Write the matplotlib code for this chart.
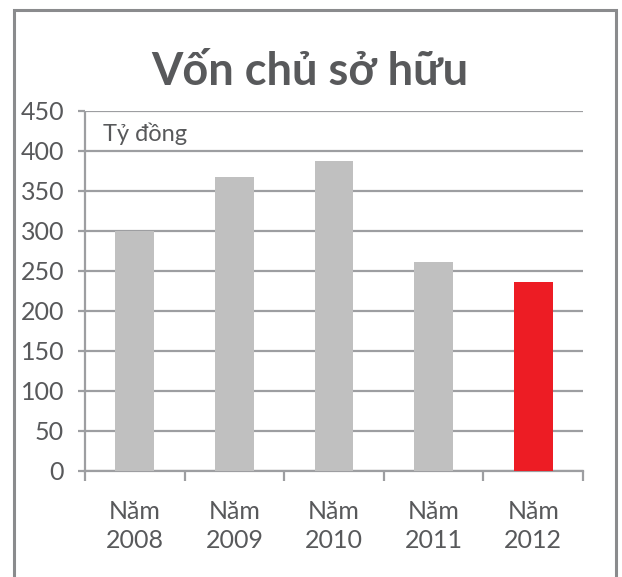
import matplotlib
matplotlib.use("Agg")
import matplotlib.pyplot as plt
from matplotlib.patches import Rectangle

categories = ["Năm\n2008", "Năm\n2009", "Năm\n2010", "Năm\n2011", "Năm\n2012"]
values = [300, 367, 387, 261, 236]
colors = ["#c0c0c0", "#c0c0c0", "#c0c0c0", "#c0c0c0", "#ed1c24"]
yticks = [0, 50, 100, 150, 200, 250, 300, 350, 400, 450]
title = "Vốn chủ sở hữu"
unit = "Tỷ đồng"

TXT = "#58595b"
GRID = "#9d9ea1"
W, H = 622, 577
fig = plt.figure(figsize=(W / 100, H / 100), dpi=100)
plt.rcParams['font.family'] = ['Lato', 'DejaVu Sans']

ax = fig.add_axes([85 / W, 1 - 471 / H, (583 - 85) / W, (471 - 111) / H])
x = list(range(len(categories)))
ax.bar(x, values, width=0.39, color=colors, zorder=3)
ax.set_xlim(-0.5, len(categories) - 0.5)
ax.set_ylim(0, 450)
ax.set_yticks(yticks)
ax.set_yticklabels([str(v) for v in yticks], fontsize=18, color=TXT)
ax.yaxis.grid(True, color=GRID, linewidth=1.6, zorder=1)
ax.tick_params(axis='y', length=5, width=1.6, color=GRID, pad=10)
ax.set_xticks([i - 0.5 for i in range(len(categories) + 1)])
ax.set_xticklabels([])
ax.set_xticks(x, minor=True)
ax.set_xticklabels(categories, minor=True, fontsize=18, color=TXT, linespacing=1.3)
ax.tick_params(axis='x', which='major', length=7, width=1.6, color=GRID, direction='out')
ax.tick_params(axis='x', which='minor', length=0, pad=21)
for s in ['top', 'right']:
    ax.spines[s].set_visible(False)
for s in ['left', 'bottom']:
    ax.spines[s].set_color(GRID)
    ax.spines[s].set_linewidth(1.6)
ax.spines['left'].set_bounds(0, 447)

ax.text(0.036, 422, unit, transform=ax.get_yaxis_transform(), fontsize=17,
        color=TXT, va='center', ha='left')

fig.text(310 / W, 1 - 72 / H, title, fontsize=32.5, fontweight='bold', color=TXT,
         ha='center', va='center')

fig.patches.append(Rectangle((14 / W, -0.05), (616 - 14) / W, 1.05 - 10 / H,
                             transform=fig.transFigure, fill=False,
                             edgecolor="#8a8b8d", linewidth=2.2))

fig.savefig("out.png", dpi=100)
